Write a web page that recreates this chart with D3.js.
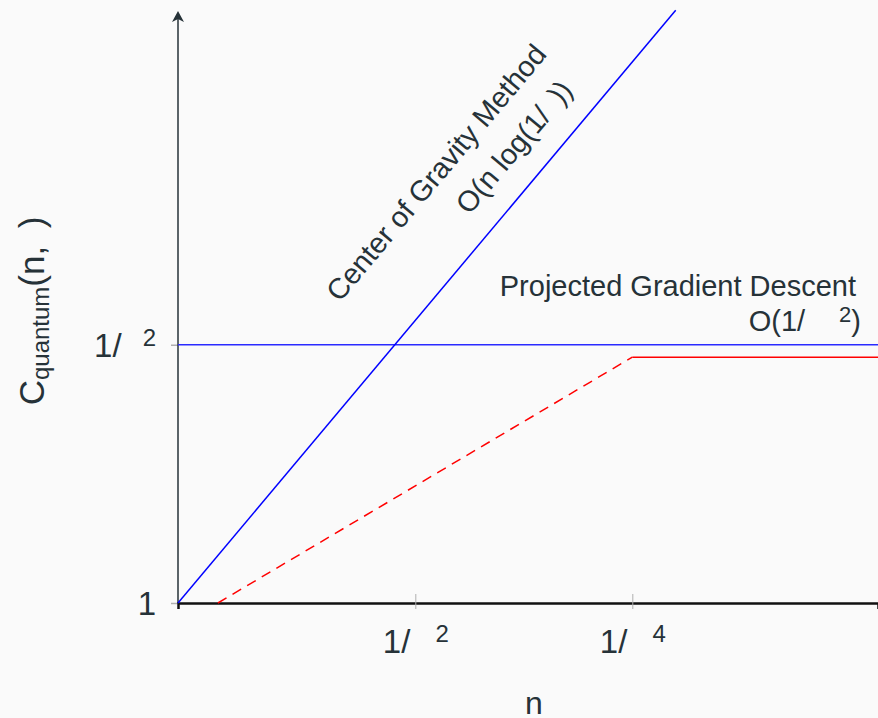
<!DOCTYPE html>
<html>
<head>
<meta charset="utf-8">
<script src="https://cdn.jsdelivr.net/npm/d3@7"></script>
<style>
  html, body { margin: 0; padding: 0; background: #fafafa; }
  svg { display: block; font-family: 'Liberation Sans', Arial, sans-serif; }
</style>
</head>
<body>
<svg id="chart" width="878" height="718"></svg>
<script>
// tick positions (abstract units) and labels
const xTickValues = [3.39, 6.49]
const xTickPowers = ['2', '4']
const yTickValues = [0, 4.37]
const yTickBases = ['1', '1/']
const yTickPowers = ['', '2']

// curves
const gravityLine = [[0, 0], [7.11, 10.03]]
const pgdLine = [[0, 4.37], [10, 4.37]]
const quantumDashed = [[0.57, 0], [6.49, 4.16]]
const quantumSolid = [[6.49, 4.16], [10, 4.16]]

const margin = { top: 12, right: 0, bottom: 115, left: 178 }
const width = 878 - margin.left - margin.right
const height = 718 - margin.top - margin.bottom
const textColor = '#263238'

const svg = d3.select('#chart')
svg.append('rect').attr('width', 878).attr('height', 718).attr('fill', '#fafafa')

const g = svg.append('g')
  .attr('transform', `translate(${margin.left},${margin.top})`)

const x = d3.scaleLinear().domain([0, 10]).range([0, width])
const y = d3.scaleLinear().domain([0, 10]).range([height, 0])

const line = d3.line()
  .x(d => x(d[0]))
  .y(d => y(d[1]))

// Y axis ticks
g.append('g')
  .call(d3.axisLeft(y).tickValues(yTickValues).tickSize(7).tickFormat(''))
  .call(s => s.select('.domain').remove())
  .call(s => s.selectAll('.tick line').attr('stroke', '#b0b0b0').attr('stroke-width', 1.5))
  .call(s => s.selectAll('.tick text').remove())
  .call(s => s.selectAll('.tick').each(function (d, i) {
    const t = d3.select(this).append('text')
      .attr('x', -22)
      .attr('dy', '0.35em')
      .attr('text-anchor', 'end')
      .attr('fill', textColor)
      .style('font-size', '33px')
    t.append('tspan').text(yTickBases[i])
    if (yTickPowers[i]) {
      t.append('tspan')
        .attr('dx', 21)
        .attr('dy', -11)
        .style('font-size', '24px')
        .text(yTickPowers[i])
    }
  }))

// Y axis line with arrow head
g.append('line')
  .attr('x1', 0).attr('x2', 0)
  .attr('y1', height).attr('y2', 6)
  .attr('stroke', textColor)
  .attr('stroke-width', 1.5)
g.append('path')
  .attr('d', 'M0,-1L6,10L0,7L-6,10Z')
  .attr('fill', textColor)

// X axis
g.append('g')
  .attr('transform', `translate(0,${height})`)
  .call(d3.axisBottom(x).tickValues(xTickValues).tickSizeOuter(0).tickSize(6).tickFormat(''))
  .call(s => s.select('.domain').attr('stroke', '#111').attr('stroke-width', 2.5))
  .call(s => s.selectAll('.tick line').attr('stroke', '#b0b0b0').attr('y1', -9))
  .call(s => s.selectAll('.tick text').remove())
  .call(s => s.selectAll('.tick').append('text')
    .attr('y', 50)
    .attr('text-anchor', 'middle')
    .attr('fill', textColor)
    .style('font-size', '33px')
    .each(function (d, i) {
      const t = d3.select(this)
      t.append('tspan').text('1/')
      t.append('tspan')
        .attr('dx', 25)
        .attr('dy', -11)
        .style('font-size', '24px')
        .text(xTickPowers[i])
    }))

// curves
g.append('path').datum(pgdLine)
  .attr('d', line)
  .attr('fill', 'none')
  .attr('stroke', '#2a2aff')
  .attr('stroke-width', 1.5)

g.append('path').datum(gravityLine)
  .attr('d', line)
  .attr('fill', 'none')
  .attr('stroke', '#0000ff')
  .attr('stroke-width', 1.5)

g.append('path').datum(quantumDashed)
  .attr('d', line)
  .attr('fill', 'none')
  .attr('stroke', '#ff0000')
  .attr('stroke-width', 1.5)
  .attr('stroke-dasharray', '10,7')

g.append('path').datum(quantumSolid)
  .attr('d', line)
  .attr('fill', 'none')
  .attr('stroke', '#ff0000')
  .attr('stroke-width', 1.5)

// annotations
const angle = -Math.atan2(y(0) - y(gravityLine[1][1]), x(gravityLine[1][0]) - x(0)) * 180 / Math.PI

svg.append('text')
  .attr('transform', `translate(548,55) rotate(${angle})`)
  .attr('text-anchor', 'end')
  .attr('fill', textColor)
  .style('font-size', '29px')
  .text('Center of Gravity Method')

svg.append('text')
  .attr('transform', `translate(574,91) rotate(${angle})`)
  .attr('text-anchor', 'end')
  .attr('fill', textColor)
  .style('font-size', '29px')
  .text('O(n log(1/\u2002))')

svg.append('text')
  .attr('x', 856)
  .attr('y', 296)
  .attr('text-anchor', 'end')
  .attr('fill', textColor)
  .style('font-size', '29px')
  .text('Projected Gradient Descent')

const pgdO = svg.append('text')
  .attr('x', 861)
  .attr('y', 331)
  .attr('text-anchor', 'end')
  .attr('fill', textColor)
  .style('font-size', '29px')
pgdO.append('tspan').text('O(1/')
pgdO.append('tspan').attr('dx', 34).attr('dy', -9).style('font-size', '22px').text('2')
pgdO.append('tspan').attr('dy', 9).text(')')

// axis titles
const yTitle = svg.append('text')
  .attr('transform', 'translate(44,311) rotate(-90)')
  .attr('text-anchor', 'middle')
  .attr('fill', textColor)
  .style('font-size', '35px')
yTitle.append('tspan').text('C')
yTitle.append('tspan').attr('dy', 5).style('font-size', '24px').text('quantum')
yTitle.append('tspan').attr('dy', -5).text('(n,\u2002)')

svg.append('text')
  .attr('x', 534)
  .attr('y', 714)
  .attr('text-anchor', 'middle')
  .attr('fill', textColor)
  .style('font-size', '32px')
  .text('n')
</script>
</body>
</html>
